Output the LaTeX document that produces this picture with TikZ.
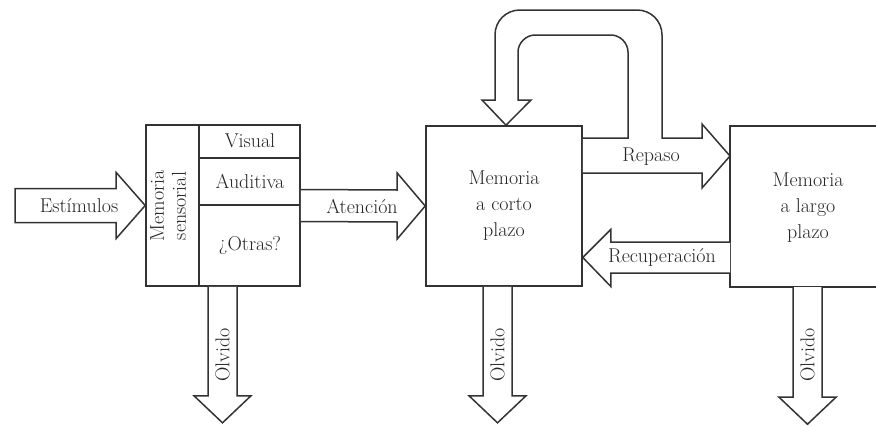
\documentclass[tikz,border=0pt]{standalone}
\usepackage{fontspec}
\usetikzlibrary{calc}
\tikzset{
  ln/.style={draw=black!80, line width=1.6pt},
  arr/.style={draw=black!80, line width=1.5pt, fill=white, line join=miter},
  box/.style={draw=black!80, line width=1.6pt, rectangle, inner sep=0pt, fill=white},
  lbl/.style={font=\fontsize{20}{26}\selectfont, text=black!85, inner sep=0pt, align=center},
}
\newcommand\myolvido[3]{%
  \draw[arr] ($(#1)+(-14.5,0)$) -- ($(#1)+(-14.5,#3)$) -- ($(#1)+(-28.5,#3)$)
    -- ($(#1)+(0,#3+27)$) -- ($(#1)+(28.5,#3)$) -- ($(#1)+(14.5,#3)$) -- ($(#1)+(14.5,0)$);
  \node[lbl, rotate=90] (#2) at ($(#1)+(0,68)$) {Olvido};}
\begin{document}
\begin{tikzpicture}[x=1pt, y=-1pt]
\useasboundingbox (0,0) rectangle (876,426);

% boxes
\node[box, minimum width=154pt, minimum height=161pt] (sens) at (223,205.5) {};
\node[box, minimum width=156pt, minimum height=160pt, lbl] (stm) at (504,206) {Memoria\\a corto\\plazo};
\node[rectangle, inner sep=0pt, minimum width=160pt, minimum height=161pt, anchor=west] (ltm) at (730,206.5) {};
\draw[ln, line cap=rect] (ltm.north east) -- (ltm.north west) -- (ltm.south west) -- (ltm.south east);
\node[lbl] (ltmlbl) at (808,208) {Memoria\\a largo\\plazo};

% sensory subdivisions
\coordinate (sdiv) at ($(sens.north west)+(54,0)$);
\draw[ln] (sdiv) -- (sdiv |- sens.south);
\draw[ln] (sdiv |- 0,158) -- (sens.east |- 0,158);
\draw[ln] (sdiv |- 0,205) -- (sens.east |- 0,205);
\node[lbl] (vis) at (250,141) {Visual};
\node[lbl] (aud) at (250,182) {Auditiva};
\node[lbl] (otr) at (250,246) {¿Otras?};
\node[lbl, rotate=90, font=\fontsize{20}{22}\selectfont] (senslbl) at (168,206) {Memoria\\sensorial};

% Estimulos
\coordinate (esttail) at (15,205.5);
\draw[arr] ($(esttail)+(0,-17)$) -- ($(sens.west)+(-29,-17)$) -- ($(sens.west)+(-29,-33)$)
  -- (sens.west) -- ($(sens.west)+(-29,33)$) -- ($(sens.west)+(-29,17)$) -- ($(esttail)+(0,17)$) -- cycle;
\node[lbl] (est) at (79,205.5) {Estímulos};

% Atencion
\draw[arr] ($(sens.east)+(0,-16)$) -- ($(stm.west)+(-28,-16)$) -- ($(stm.west)+(-28,-33)$)
  -- (stm.west) -- ($(stm.west)+(-28,33)$) -- ($(stm.west)+(-28,16)$) -- ($(sens.east)+(0,16)$);
\node[lbl] (ate) at (362,207) {Atención};

% Repaso with loop
\coordinate (reptip) at (ltm.west |- 0,156);
\draw[arr] (stm.east |- 0,173) -- ($(reptip)+(-28,17)$) -- ($(reptip)+(-28,32)$) -- (reptip)
  -- ($(reptip)+(-28,-32)$) -- ($(reptip)+(-28,-18)$) -- (662,138) -- (662,35)
  .. controls (662,21) and (651,10) .. (637,10) -- (520,10)
  .. controls (506,10) and (495,21) .. (495,35) -- (495,100) -- (482,100)
  -- (stm.north -| 506,0) -- (531,100) -- (518,100) -- (518,52)
  .. controls (518,43) and (526,35) .. (535,35) -- (611,35)
  .. controls (620,35) and (628,43) .. (628,52) -- (628,138) -- (stm.east |- 0,138);
\node[lbl] (rep) at (651,157) {Repaso};

% Recuperacion
\coordinate (rectip) at (stm.east |- 0,257.5);
\draw[arr] (ltm.west |- 0,242) -- ($(rectip)+(28,-15.5)$) -- ($(rectip)+(28,-28)$) -- (rectip)
  -- ($(rectip)+(28,29)$) -- ($(rectip)+(28,15.5)$) -- (ltm.west |- 0,273);
\node[lbl] (rec) at (662,257.5) {Recuperación};

% Olvido arrows
\coordinate (o1) at (sens.south -| 222.5,0);
\coordinate (o2) at (stm.south -| 497.5,0);
\coordinate (o3) at (ltm.south -| 807.5,0);
\myolvido{o1}{ol1}{109}
\myolvido{o2}{ol2}{109}
\myolvido{o3}{ol3}{110}
\end{tikzpicture}
\end{document}
